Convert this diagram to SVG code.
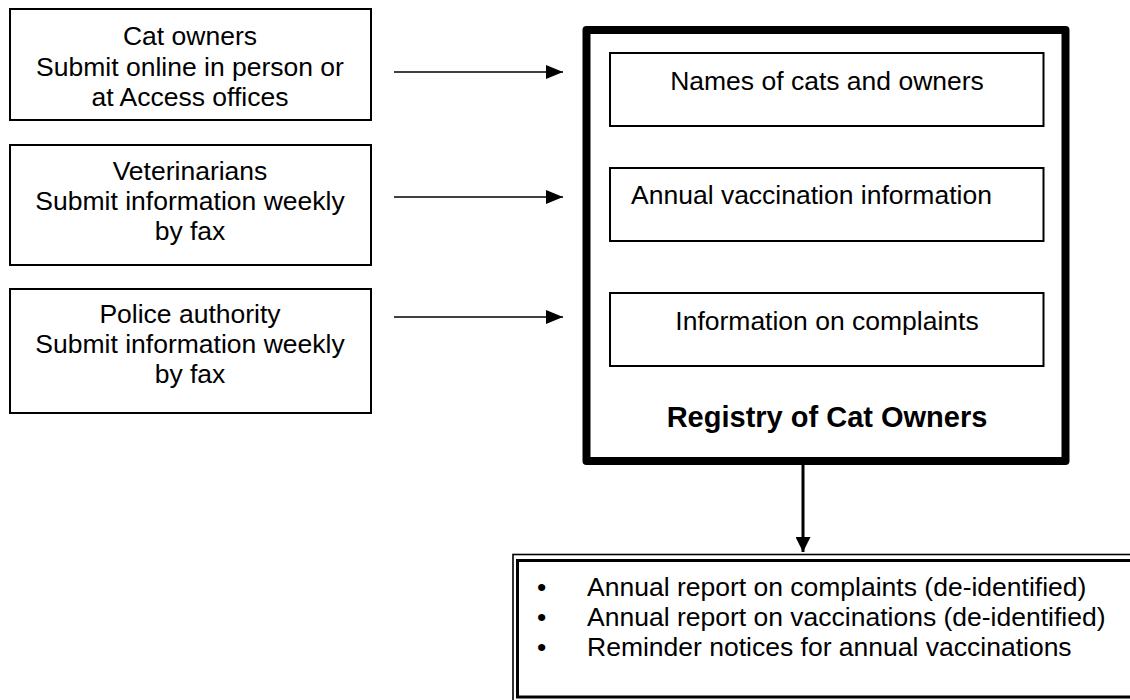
<svg xmlns="http://www.w3.org/2000/svg" width="1130" height="700" viewBox="0 0 1130 700">
<defs>
<style>
.box{fill:#fff;stroke:#000;stroke-width:2}
.t{font-family:"Liberation Sans",Arial,sans-serif;font-size:26.5px;fill:#000}
.c{text-anchor:middle}
.b{font-weight:bold;font-size:29px}
.ln{stroke:#000;stroke-width:1.6;fill:none}
</style>
<marker id="ah" markerWidth="17" markerHeight="14" refX="17" refY="7" orient="auto" markerUnits="userSpaceOnUse">
<path d="M0,0 L17,7 L0,14 Z" fill="#000"/>
</marker>
<marker id="ahd" markerWidth="15" markerHeight="15" refX="15" refY="7.5" orient="auto" markerUnits="userSpaceOnUse">
<path d="M0,0 L15,7.5 L0,15 Z" fill="#000"/>
</marker>
</defs>
<rect width="1130" height="700" fill="#fff"/>
<g id="cat-owners">
<rect class="box" x="10" y="9" width="361" height="111"/>
<text class="t c" x="190" y="45">Cat owners</text>
<text class="t c" x="190" y="76">Submit online in person or</text>
<text class="t c" x="190" y="106">at Access offices</text>
</g>
<g id="veterinarians">
<rect class="box" x="10" y="145" width="361" height="120"/>
<text class="t c" x="190" y="180">Veterinarians</text>
<text class="t c" x="190" y="210">Submit information weekly</text>
<text class="t c" x="190" y="240">by fax</text>
</g>
<g id="police">
<rect class="box" x="10" y="289" width="361" height="124"/>
<text class="t c" x="190" y="323">Police authority</text>
<text class="t c" x="190" y="353">Submit information weekly</text>
<text class="t c" x="190" y="383">by fax</text>
</g>
<g id="registry">
<rect x="586.5" y="30" width="479" height="431" fill="#fff" stroke="#000" stroke-width="8" stroke-linejoin="round"/>
<text class="t c b" x="827" y="427">Registry of Cat Owners</text>
</g>
<g id="names">
<rect class="box" x="610" y="53" width="433.5" height="73"/>
<text class="t c" x="827" y="90">Names of cats and owners</text>
</g>
<g id="vaccination">
<rect class="box" x="610" y="168" width="433.5" height="73"/>
<text class="t" x="631" y="204">Annual vaccination information</text>
</g>
<g id="complaints">
<rect class="box" x="610" y="293" width="433.5" height="73"/>
<text class="t c" x="827" y="330">Information on complaints</text>
</g>
<g id="outputs">
<rect x="513" y="554.5" width="640" height="147" fill="#fff" stroke="#000" stroke-width="1.6"/>
<rect x="517.5" y="560.5" width="630" height="136.5" fill="none" stroke="#000" stroke-width="3"/>
<text class="t" x="537" y="596">•</text>
<text class="t" x="537" y="626">•</text>
<text class="t" x="537" y="656">•</text>
<text class="t" x="587" y="596">Annual report on complaints (de-identified)</text>
<text class="t" x="587" y="626">Annual report on vaccinations (de-identified)</text>
<text class="t" x="587" y="656">Reminder notices for annual vaccinations</text>
</g>
<g id="connectors">
<line class="ln" x1="394" y1="72" x2="563" y2="72" marker-end="url(#ah)"/>
<line class="ln" x1="394" y1="197" x2="563" y2="197" marker-end="url(#ah)"/>
<line class="ln" x1="394" y1="317" x2="563" y2="317" marker-end="url(#ah)"/>
<line x1="803" y1="465" x2="803" y2="552" stroke="#000" stroke-width="3" marker-end="url(#ahd)"/>
</g>
</svg>
